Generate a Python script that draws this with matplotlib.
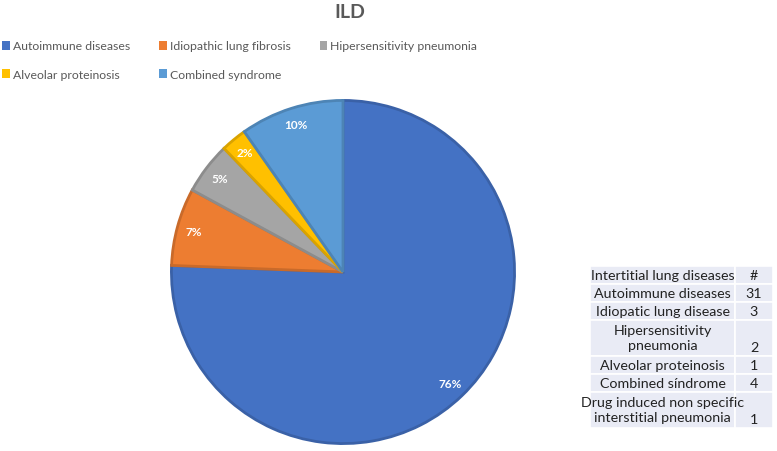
import matplotlib.pyplot as plt
import matplotlib.colors as mcolors
from matplotlib.patches import Patch, Rectangle

# data
categories = ['Autoimmune diseases', 'Idiopathic lung fibrosis', 'Hipersensitivity pneumonia',
              'Alveolar proteinosis', 'Combined syndrome']
counts = [31, 3, 2, 1, 4]
colors = ['#4472C4', '#ED7D31', '#A5A5A5', '#FFC000', '#5B9BD5']

table_labels = ['Intertitial lung diseases', 'Autoimmune diseases', 'Idiopatic lung disease',
                'Hipersensitivity\npneumonia', 'Alveolar proteinosis', 'Combined síndrome',
                'Drug induced non specific\ninterstitial pneumonia']
table_counts = ['#', '31', '3', '2', '1', '4', '1']

W, H = 777, 452
plt.rcParams['font.family'] = ['Lato', 'DejaVu Sans']
fig = plt.figure(figsize=(W / 100, H / 100), dpi=100)

# pie
cx, cy, r = 343, 273, 175
ax = fig.add_axes([(cx - r) / W, (H - cy - r) / H, 2 * r / W, 2 * r / H])
edge = [tuple(c * 0.85 for c in mcolors.to_rgb(col)) for col in colors]
wedges, _, autotexts = ax.pie(counts, colors=colors, startangle=90, counterclock=False,
                              autopct='%1.0f%%', pctdistance=0.9, radius=1,
                              wedgeprops=dict(linewidth=2))
for w, e in zip(wedges, edge):
    w.set_edgecolor(e)
for t in autotexts:
    t.set_color('white')
    t.set_fontsize(8.5)
    t.set_fontweight('bold')
ax.set_xlim(-1.02, 1.02)
ax.set_ylim(-1.02, 1.02)
ax.set_aspect('equal')
ax.axis('off')

# title
fig.text(350 / W, 1 - 13 / H, 'ILD', ha='center', va='center', fontsize=14,
         fontweight='bold', color='#595959')

# legend, filled row by row
order = [0, 3, 1, 4, 2]
handles = [Patch(facecolor=colors[i], edgecolor='none') for i in order]
labels = [categories[i] for i in order]
fig.legend(handles, labels, ncol=3, loc='upper left', bbox_to_anchor=(0.0, 1 - 39 / H),
           frameon=False, fontsize=8.8, labelcolor='#595959', handlelength=0.6,
           handleheight=0.75, handletextpad=0.25, columnspacing=2.4, labelspacing=1.45,
           borderpad=0.2, borderaxespad=0)

# table
tx = fig.add_axes([0, 0, 1, 1])
tx.set_xlim(0, W)
tx.set_ylim(H, 0)
tx.axis('off')
x0, x1, x2 = 590, 735, 773
y = 267
line_h = 18
for lab, cnt in zip(table_labels, table_counts):
    n = lab.count('\n') + 1
    h = line_h * n
    tx.add_patch(Rectangle((x0, y), x1 - x0, h, facecolor='#E9EBF5', edgecolor='white', lw=1.2))
    tx.add_patch(Rectangle((x1, y), x2 - x1, h, facecolor='#E9EBF5', edgecolor='white', lw=1.2))
    tx.text((x0 + x1) / 2, y + h / 2, lab, ha='center', va='center', fontsize=10.3,
            color='#222222', linespacing=1.3)
    tx.text((x1 + x2) / 2, y + h - line_h / 2, cnt, ha='center', va='center', fontsize=10.3,
            color='#222222')
    y += h

fig.savefig('out.png', dpi=100)
